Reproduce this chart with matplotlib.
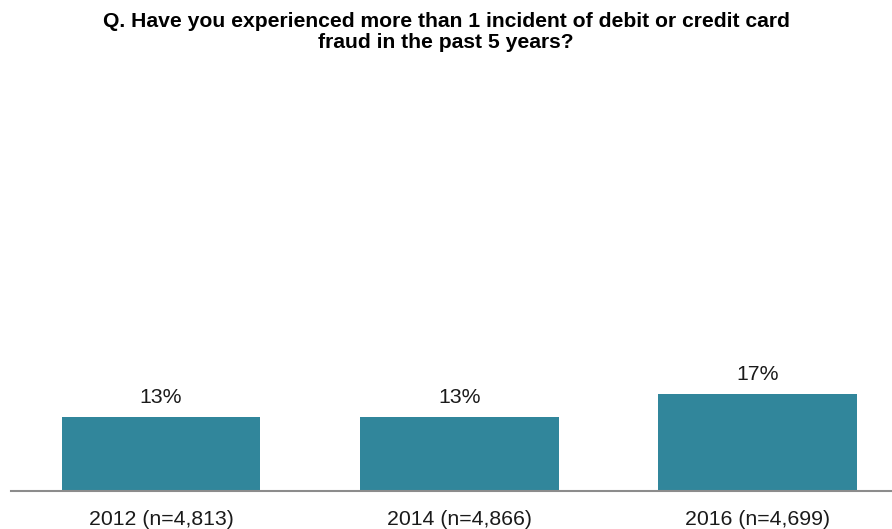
import matplotlib.pyplot as plt

years = ["2012 (n=4,813)", "2014 (n=4,866)", "2016 (n=4,699)"]
shares = [13, 13, 17]

bar_color = "#31869b"
plt.rcParams["font.family"] = ["Liberation Sans", "DejaVu Sans"]

fig = plt.figure(figsize=(8.92, 5.29), dpi=100)
ax = fig.add_axes([11 / 892, 38 / 529, 881 / 892, 432 / 529])

x = list(range(len(years)))
ax.bar(x, shares, width=0.667, color=bar_color)
ax.set_xlim(-0.503, 2.451)
ax.set_ylim(0, 75.5)

# percentage labels above each bar
for xi, v in zip(x, shares):
    ax.annotate(f"{v}%", (xi, v), xytext=(0, 7), textcoords="offset points",
                ha="center", va="bottom", fontsize=15.3, color="#1a1a1a")

ax.set_xticks(x)
ax.set_xticklabels(years, fontsize=15.3, color="#1a1a1a")
ax.tick_params(axis="x", length=0, pad=13.5)
ax.set_yticks([])
for side in ["left", "right", "top"]:
    ax.spines[side].set_visible(False)
ax.spines["bottom"].set_color("#8c8c8c")
ax.spines["bottom"].set_linewidth(1.5)

fig.text(0.5, 1 - 32 / 529,
         "Q. Have you experienced more than 1 incident of debit or credit card\n"
         "fraud in the past 5 years?",
         ha="center", va="center", fontsize=15.2, fontweight="bold",
         linespacing=1.07)

fig.savefig("out.png", dpi=100)
